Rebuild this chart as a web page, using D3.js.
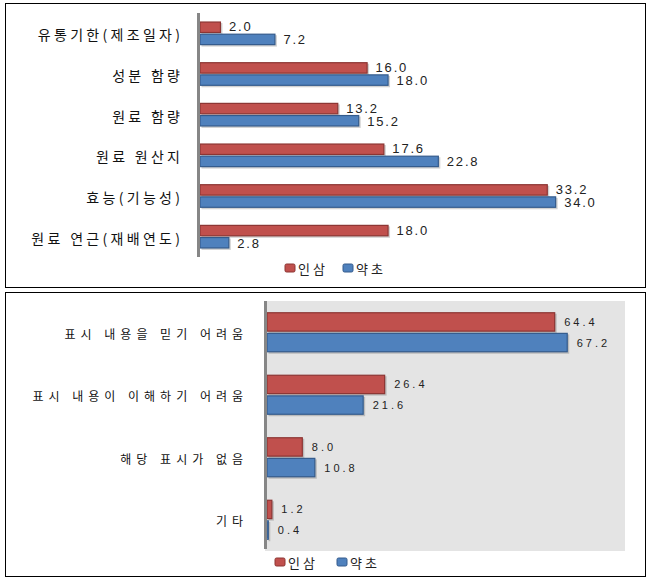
<!DOCTYPE html>
<html><head><meta charset="utf-8">
<script src="https://cdn.jsdelivr.net/npm/d3@7"></script>
<style>
body{margin:0;background:#fff;}
svg{display:block;font-family:"Noto Sans CJK KR","Noto Sans",sans-serif;}
</style></head><body>
<svg id="c" width="653" height="582"></svg>
<script>
const series = ["인삼", "약초"];
const colors = ["#c0504d", "#4f81bd"];
const strokes = ["#8c3533", "#345b8c"];

const topCats = ["유통기한(제조일자)", "성분 함량", "원료 함량", "원료 원산지", "효능(기능성)", "원료 연근(재배연도)"];
const topGinseng = [2.0, 16.0, 13.2, 17.6, 33.2, 18.0];
const topHerb = [7.2, 18.0, 15.2, 22.8, 34.0, 2.8];

const botCats = ["표시 내용을 믿기 어려움", "표시 내용이 이해하기 어려움", "해당 표시가 없음", "기타"];
const botGinseng = [64.4, 26.4, 8.0, 1.2];
const botHerb = [67.2, 21.6, 10.8, 0.4];

const svg = d3.select("#c");

function panel(opt){
  const g = svg.append("g");
  g.append("rect").attr("x", opt.box[0]+0.5).attr("y", opt.box[1]+0.5)
    .attr("width", opt.box[2]).attr("height", opt.box[3])
    .attr("fill", "#fff").attr("stroke", "#000").attr("stroke-width", 1);
  if (opt.bg) {
    g.append("rect").attr("x", opt.xr[0]-2).attr("y", opt.yr[0])
      .attr("width", opt.xr[1]-opt.xr[0]+2).attr("height", opt.yr[1]-opt.yr[0])
      .attr("fill", opt.bg);
  }
  const x = d3.scaleLinear().domain(opt.xd).range(opt.xr);
  const y0 = d3.scaleBand().domain(opt.cats).range(opt.yr).paddingInner(opt.pad).paddingOuter(opt.pad/2);
  const y1 = d3.scaleBand().domain(series).range([0, y0.bandwidth()]).paddingInner(opt.inner);
  const data = opt.cats.map((c,i)=>({cat:c, vals:[opt.v0[i], opt.v1[i]]}));
  const grp = g.selectAll("g.cat").data(data).join("g").attr("class","cat")
    .attr("transform", d=>`translate(0,${y0(d.cat)})`);
  series.forEach((s,si)=>{
    grp.append("rect").attr("x", x(0)+1.5).attr("y", y1(s)+1.5)
      .attr("width", d=>Math.max(0, x(d.vals[si])-x(0))).attr("height", y1.bandwidth())
      .attr("fill", "rgba(0,0,0,0.18)");
    grp.append("rect").attr("x", x(0)).attr("y", y1(s)+0.5)
      .attr("width", d=>Math.max(0, x(d.vals[si])-x(0)-0.5)).attr("height", y1.bandwidth()-1)
      .attr("fill", colors[si]).attr("stroke", strokes[si]).attr("stroke-width", 1.2);
    grp.append("text").attr("x", d=>x(d.vals[si])+opt.lblGap).attr("y", y1(s)+y1.bandwidth()/2 + (si===0 ? -opt.valSep : opt.valSep))
      .attr("dominant-baseline", "central")
      .attr("font-family", "Arial, 'Liberation Sans', sans-serif")
      .attr("font-size", opt.valSize).attr("letter-spacing", opt.valLs).attr("fill", "#222")
      .text(d=>d.vals[si].toFixed(1));
  });
  g.selectAll("text.cl").data(opt.cats).join("text").attr("class","cl")
    .attr("x", opt.lblX + opt.catLs).attr("y", d=>y0(d)+y0.bandwidth()/2 + opt.catDy)
    .attr("text-anchor", "end").attr("dominant-baseline", "central")
    .attr("font-size", opt.catSize).attr("letter-spacing", opt.catLs)
    .attr("word-spacing", opt.catWs).attr("fill", "#111").text(d=>d);
  g.append("line").attr("x1", x(0)-1.5).attr("x2", x(0)-1.5)
    .attr("y1", opt.yr[0]).attr("y2", opt.yr[1]-opt.axCut)
    .attr("stroke", "#868686").attr("stroke-width", 3);
  const lg = g.append("g").attr("transform", `translate(${opt.leg[0]},${opt.leg[1]})`);
  series.forEach((s,si)=>{
    const it = lg.append("g").attr("transform", `translate(${si*opt.legStep},0)`);
    it.append("rect").attr("x",0).attr("y",-4).attr("width",10).attr("height",8)
      .attr("rx",1.5).attr("fill", colors[si]).attr("stroke", strokes[si]).attr("stroke-width",1);
    it.append("text").attr("x", 13).attr("y", 0.5).attr("dominant-baseline","central")
      .attr("font-size", 13).attr("letter-spacing", 3).attr("fill","#222").text(s);
  });
}

panel({box:[5,3,640,284], cats:topCats, v0:topGinseng, v1:topHerb,
  xd:[0,40], xr:[200,619], yr:[13,257], pad:0.42, inner:0.06,
  lblGap:8, valSize:13, valLs:1.8, valSep:0.5, lblX:180, catSize:14, catLs:3.3, catWs:0, catDy:1,
  leg:[285,268], legStep:58, axCut:0});

panel({box:[5,292,640,284], cats:botCats, v0:botGinseng, v1:botHerb, bg:"#e4e4e4",
  xd:[0,80], xr:[267,625], yr:[301,551], pad:0.36, inner:0.06,
  lblGap:9, valSize:11, valLs:3, valSep:0, lblX:243, catSize:12, catLs:5, catWs:0, catDy:1,
  leg:[275,562], legStep:62, axCut:2});
</script>
</body></html>
